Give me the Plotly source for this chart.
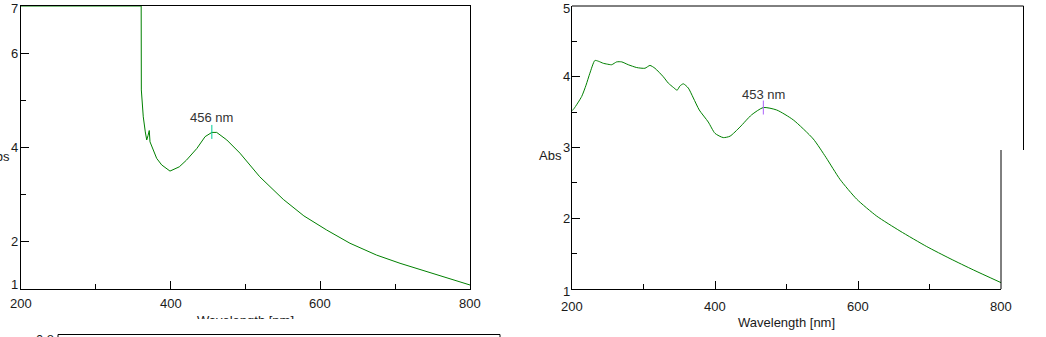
import plotly.graph_objects as go

# ---------------- data ----------------
wl_left = [200, 300, 360.6, 360.8, 362.1, 363.4, 366.1, 368.0, 369.7, 371.4, 372.4,
           376.8, 381.3, 388.0, 399.1, 411.5, 421, 435, 446, 455, 461.5,
           475, 492.6, 519, 550.5, 578, 608.5, 639.6, 675, 706.5, 742, 773, 800]
abs_left = [7, 7, 7, 5.22, 4.86, 4.65, 4.33, 4.16, 4.25, 4.36, 4.12,
            3.95, 3.77, 3.63, 3.50, 3.59, 3.73, 3.98, 4.23, 4.32, 4.32,
            4.16, 3.88, 3.38, 2.90, 2.55, 2.25, 1.97, 1.72, 1.545, 1.37, 1.23, 1.085]

wl_right = [200, 202.8, 213.5, 219.6, 225, 232, 236.8, 243.8, 248.5, 255.5, 262.5,
            269.5, 278.7, 290.5, 302, 309, 316, 327.7, 334.7, 341.7, 347, 351,
            355.7, 362.7, 369.7, 378, 390.6, 400, 411.6, 421, 435, 451, 467.6,
            486.3, 509.5, 537.5, 555.2, 574.8, 598.2, 626.2, 658.7, 696.1, 728.7, 761.3, 800]
abs_right = [3.52, 3.55, 3.72, 3.88, 4.05, 4.23, 4.22, 4.19, 4.18, 4.17, 4.21,
             4.21, 4.17, 4.13, 4.12, 4.16, 4.12, 4.00, 3.91, 3.85, 3.81, 3.87,
             3.90, 3.84, 3.70, 3.53, 3.36, 3.20, 3.14, 3.16, 3.29, 3.46, 3.565,
             3.53, 3.39, 3.12, 2.86, 2.55, 2.27, 2.03, 1.82, 1.60, 1.43, 1.27, 1.09]

peak_left = (455, 4.33)
peak_left_label = "456 nm"
peak_right = (467.6, 3.565)
peak_right_label = "453 nm"

x_ticks = [200, 400, 600, 800]
x_minor = [300, 500, 700]
y_left_labels = [1, 2, 4, 6, 7]
y_left_major = [2, 4, 6]
y_left_minor = [3, 5]
y_right_labels = [1, 2, 3, 4, 5]
y_right_major = [2, 3, 4]
y_right_minor = [1.5, 2.5, 3.5, 4.5]
x_title = "Wavelength [nm]"
y_title = "Abs"

# ---------------- layout helpers ----------------
W, H = 1046, 337
def px(x):
    return x / W
def py(y):
    return (H - y) / H

FONT = "Liberation Sans, Arial, sans-serif"
FS = 13
TXT = "#1a1a1a"
GREEN = "#008000"

fig = go.Figure()
fig.add_trace(go.Scatter(x=wl_left, y=abs_left, mode="lines",
                         line=dict(color=GREEN, width=1), xaxis="x", yaxis="y",
                         showlegend=False, hoverinfo="skip"))
fig.add_trace(go.Scatter(x=wl_right, y=abs_right, mode="lines",
                         line=dict(color=GREEN, width=1, shape="spline", smoothing=0.6),
                         xaxis="x2", yaxis="y2",
                         showlegend=False, hoverinfo="skip"))
for (pk, ax, ay) in [(peak_left, "x", "y"), (peak_right, "x2", "y2")]:
    fig.add_trace(go.Scatter(x=[pk[0]], y=[pk[1]], mode="markers",
                             marker=dict(symbol="line-ns-open", size=10,
                                         line=dict(color="#808080", width=1)),
                             xaxis=ax, yaxis=ay, showlegend=False, hoverinfo="skip"))

# left x title, partly hidden (clipped) as in the reference
fig.add_trace(go.Scatter(x=[0.5], y=[-0.12], mode="text", text=[x_title],
                         textposition="middle center",
                         textfont=dict(family=FONT, size=FS, color=TXT),
                         xaxis="x3", yaxis="y3", cliponaxis=True,
                         showlegend=False, hoverinfo="skip"))

common = dict(showline=True, linecolor="black", linewidth=1, showgrid=False,
              zeroline=False, ticks="inside", ticklen=8, tickcolor="black",
              tickwidth=1, showticklabels=False, layer="below traces",
              fixedrange=True)

fig.update_layout(
    width=W, height=H, margin=dict(l=0, r=0, t=0, b=0),
    paper_bgcolor="white", plot_bgcolor="rgba(0,0,0,0)",
    font=dict(family=FONT, size=FS, color=TXT),
    xaxis=dict(domain=[px(21), px(470)], range=[200, 800], tickvals=x_ticks,
               mirror=True, anchor="y",
               minor=dict(tickvals=x_minor, ticks="inside", ticklen=5,
                          tickcolor="black", showgrid=False), **common),
    yaxis=dict(domain=[py(289), py(6)], range=[1, 7], tickvals=y_left_major,
               mirror=True, anchor="x",
               minor=dict(tickvals=y_left_minor, ticks="inside", ticklen=5,
                          tickcolor="black", showgrid=False), **common),
    xaxis2=dict(domain=[px(572), px(1001)], range=[200, 800], tickvals=x_ticks,
                anchor="y2",
                minor=dict(tickvals=x_minor, ticks="inside", ticklen=5,
                           tickcolor="black", showgrid=False), **common),
    yaxis2=dict(domain=[py(289), py(6)], range=[1, 5], tickvals=y_right_major,
                anchor="x2",
                minor=dict(tickvals=y_right_minor, ticks="inside", ticklen=5,
                           tickcolor="black", showgrid=False), **common),
    xaxis3=dict(domain=[px(21), px(470)], range=[0, 1], visible=False,
                anchor="y3", fixedrange=True),
    yaxis3=dict(domain=[py(319), py(296)], range=[0, 1], visible=False,
                anchor="x3", fixedrange=True),
)

shapes = [
    # right panel frame (top + stepped right side)
    dict(type="line", xref="paper", yref="paper", x0=px(572), x1=px(1023.5),
         y0=py(6), y1=py(6), line=dict(color="black", width=1)),
    dict(type="line", xref="paper", yref="paper", x0=px(1023.5), x1=px(1023.5),
         y0=py(6), y1=py(150), line=dict(color="black", width=1)),
    dict(type="line", xref="paper", yref="paper", x0=px(1001), x1=px(1001),
         y0=py(150), y1=py(289), line=dict(color="black", width=1)),
    # third panel peeking in at the bottom
    dict(type="rect", xref="paper", yref="paper", x0=px(58), x1=px(500),
         y0=py(334.5), y1=py(370), line=dict(color="black", width=1),
         fillcolor="rgba(0,0,0,0)"),
]
fig.update_layout(shapes=shapes)

ann = []
# y tick labels left
for v in y_left_labels:
    shift = -3 if v == 7 else (5 if v == 1 else 0)
    ann.append(dict(x=px(20), xref="paper", y=v, yref="y", text=str(v),
                    xanchor="right", yanchor="middle", yshift=shift, showarrow=False))
for v in y_right_labels:
    shift = -3 if v == 5 else (-2 if v == 1 else 0)
    ann.append(dict(x=px(572), xref="paper", y=v, yref="y2", text=str(v),
                    xanchor="right", yanchor="middle", yshift=shift, showarrow=False))
for v in x_ticks:
    ann.append(dict(x=v, xref="x", y=py(303), yref="paper", text=str(v),
                    xanchor="center", yanchor="middle", showarrow=False))
    ann.append(dict(x=v, xref="x2", y=py(306), yref="paper", text=str(v),
                    xanchor="center", yanchor="middle", showarrow=False))
# axis titles
ann.append(dict(x=px(786.5), xref="paper", y=py(322), yref="paper", text=x_title,
                xanchor="center", yanchor="middle", showarrow=False))
ann.append(dict(x=px(564), xref="paper", y=py(155.5), yref="paper", text=y_title,
                xanchor="right", yanchor="middle", showarrow=False))
ann.append(dict(x=px(12), xref="paper", y=py(156), yref="paper", text=y_title,
                xanchor="right", yanchor="middle", showarrow=False))
# peak labels
ann.append(dict(x=peak_left[0], xref="x", y=peak_left[1], yref="y",
                text=peak_left_label, yshift=14, showarrow=False,
                font=dict(color="#333333")))
ann.append(dict(x=peak_right[0], xref="x2", y=peak_right[1], yref="y2",
                text=peak_right_label, yshift=13, showarrow=False,
                font=dict(color="#333333")))
# third panel's clipped tick label
ann.append(dict(x=px(56), xref="paper", y=py(339), yref="paper", text="0.8",
                xanchor="right", yanchor="middle", showarrow=False))
fig.update_layout(annotations=ann)

fig.write_html("out.html")
